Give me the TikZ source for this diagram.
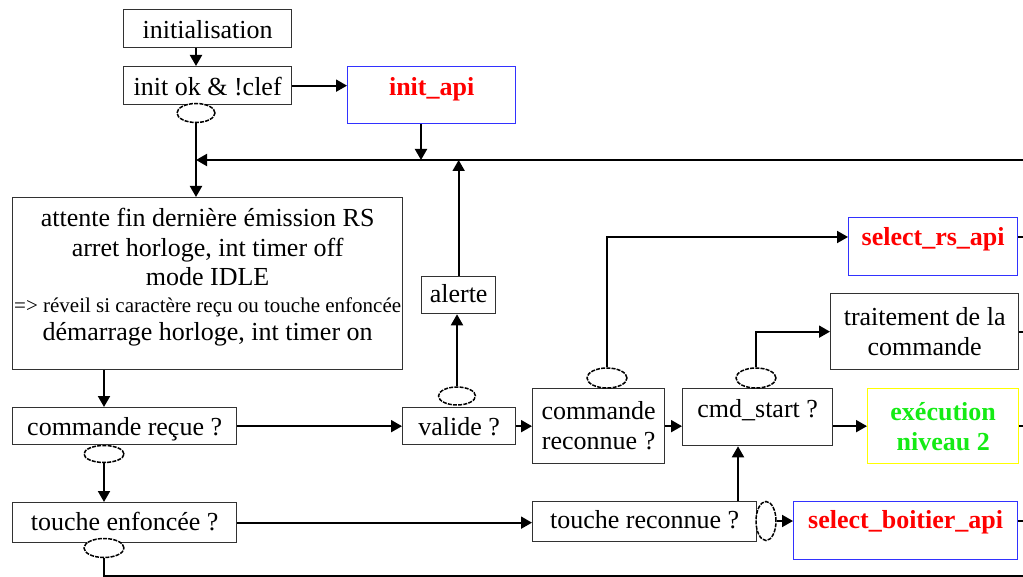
\documentclass[tikz,border=0pt]{standalone}
\usepackage{fontspec}
\setmainfont{Liberation Serif}
\usetikzlibrary{arrows.meta,shapes.geometric}
\definecolor{bordergray}{RGB}{50,50,50}
\definecolor{apiblue}{RGB}{50,50,255}
\definecolor{apired}{RGB}{255,0,0}
\definecolor{execyellow}{RGB}{255,255,0}
\definecolor{execgreen}{RGB}{20,235,20}
\newcommand\myfbig{\fontsize{26}{30}\selectfont}
\newcommand\myfsmall{\fontsize{21}{26}\selectfont}
\begin{document}
\begin{tikzpicture}[x=1pt,y=-1pt,
  bx/.style={draw=bordergray,line width=1.3pt,inner xsep=0pt,inner ysep=0pt,anchor=north west,font=\myfbig},
  api/.style={bx,draw=apiblue,text=apired,font=\myfbig\bfseries},
  execbx/.style={bx,draw=execyellow,text=execgreen,font=\myfbig\bfseries},
  ell/.style={ellipse,draw=black,line width=1.5pt,dash pattern=on 4pt off 1.2pt,fill=white,inner sep=0pt},
  ln/.style={draw=black,line width=1.9pt},
  arr/.style={ln,-{Triangle[length=11pt,width=12pt]}}]
\useasboundingbox (0,0) rectangle (1023,577);

% boxes
\node[bx,minimum width=168pt,text height=29pt,text depth=9pt] (init) at (123,9) {initialisation};
\node[bx,minimum width=168pt,text height=29pt,text depth=9pt] (initok) at (123,66) {init ok \& !clef};
\node[api,minimum width=168pt,text height=29pt,text depth=28pt] (initapi) at (347,66) {init\_api};
\node[bx,align=center,minimum width=390pt,minimum height=172pt] (attente) at (12,197)
  {attente fin dernière émission RS\\ arret horloge, int timer off\\[-1pt] mode IDLE\\[-3pt]
   {\myfsmall => réveil si caractère reçu ou touche enfoncée}\\[-2pt]
   démarrage horloge, int timer on\\[-12pt]\mbox{}};
\node[bx,minimum width=224pt,text height=28pt,text depth=9pt] (cmdrecue) at (12,407) {commande reçue ?};
\node[bx,minimum width=224pt,text height=28pt,text depth=12pt] (touche) at (12,502) {touche enfoncée ?};
\node[bx,minimum width=113pt,text height=28pt,text depth=9pt] (valide) at (402,407) {valide ?};
\node[bx,minimum width=74pt,text height=26pt,text depth=11pt] (alerte) at (421,276) {alerte};
\node[bx,align=center,minimum width=132pt,minimum height=75pt] (reconnue) at (532,388) {commande\\reconnue ?};
\node[bx,minimum width=150pt,text height=29pt,text depth=28pt] (cmdstart) at (682,388) {cmd\_start ?};
\node[api,minimum width=169pt,text height=28pt,text depth=30pt] (rsapi) at (848,217) {select\_rs\_api};
\node[bx,align=center,minimum width=188pt,minimum height=76pt] (traitement) at (830,293) {traitement de la\\commande};
\node[execbx,align=center,minimum width=151pt,minimum height=75pt] (exec) at (867,388) {exécution\\niveau 2};
\node[bx,minimum width=224pt,text height=27pt,text depth=13pt] (toucherec) at (532,501) {touche reconnue ?};
\node[api,minimum width=224pt,text height=27pt,text depth=31pt] (boitier) at (793,501) {select\_boitier\_api};

% ellipses
\node[ell,minimum width=38pt,minimum height=19pt] (e1) at (196,113) {};
\node[ell,minimum width=37pt,minimum height=18pt] (e2) at (457,396) {};
\node[ell,minimum width=40pt,minimum height=17pt] (e3) at (104,454) {};
\node[ell,minimum width=40pt,minimum height=19pt] (e4) at (104,548) {};
\node[ell,minimum width=40pt,minimum height=20pt] (e5) at (607,378) {};
\node[ell,minimum width=40pt,minimum height=20pt] (e6) at (756,378) {};
\node[ell,minimum width=20pt,minimum height=39pt] (e7) at (766,521) {};

% helper coordinates
\coordinate (busR) at (1023,160);
\coordinate (busL) at (196,160);
\coordinate (xa) at (421,0);
\coordinate (xb) at (738,0);
\coordinate (yrs) at (0,237);
\coordinate (botR) at (1023,576);
\coordinate (s1) at (1023,237);
\coordinate (s2) at (1023,332);
\coordinate (s3) at (1023,426);
\coordinate (s4) at (1023,521);

% connectors
\draw[arr] (e1 |- init.south) -- (e1 |- initok.north);
\draw[arr] (initok.east) -- (initapi.west |- initok.east);
\draw[arr] (e1.south) -- (e1.south |- attente.north);
\draw[arr] (busR) -- (busL);
\draw[arr] (initapi.south -| xa) -- (xa |- busR);
\draw[arr] (alerte.north) -- (alerte.north |- busR);
\draw[arr] (e2.north) -- (e2.north |- alerte.south);
\draw[arr] (e3 |- attente.south) -- (e3 |- cmdrecue.north);
\draw[arr] (e3.south) -- (e3.south |- touche.north);
\draw[ln] (e4.south) |- (botR);
\draw[arr] (cmdrecue.east) -- (valide.west |- cmdrecue.east);
\draw[arr] (valide.east) -- (reconnue.west |- valide.east);
\draw[arr] (e5.north) |- (rsapi.west |- yrs);
\draw[arr] (reconnue.east) -- (cmdstart.west |- reconnue.east);
\draw[arr] (e6.north) |- (traitement.west);
\draw[arr] (cmdstart.east |- exec.west) -- (exec.west);
\draw[arr] (touche.east) -- (toucherec.west |- touche.east);
\draw[arr] (toucherec.north -| xb) -- (cmdstart.south -| xb);
\draw[arr] (e7.east) -- (boitier.west |- e7.east);
\draw[ln] (rsapi.east |- s1) -- (s1);
\draw[ln] (traitement.east |- s2) -- (s2);
\draw[ln] (exec.east |- s3) -- (s3);
\draw[ln] (boitier.east |- s4) -- (s4);
\end{tikzpicture}
\end{document}
